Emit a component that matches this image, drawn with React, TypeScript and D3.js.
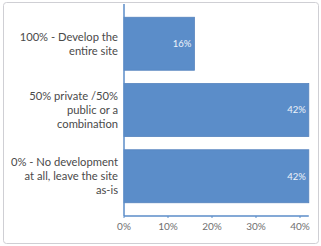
import React from 'react';
import * as d3 from 'd3';

const categories = [
    ['100% - Develop the', 'entire site'],
    ['50% private /50%', 'public or a', 'combination'],
    ['0% - No development', 'at all, leave the site', 'as-is'],
];
const values = [16, 42, 42];
const tickValues = [0, 10, 20, 30, 40];

const App: React.FC = () => {
    const width = 321;
    const height = 246;
    const margin = { top: 4, right: 13, bottom: 30, left: 124 };
    const innerW = 308.8 - margin.left;

    const x = d3.scaleLinear().domain([0, 42]).range([margin.left, margin.left + innerW]);
    const y = d3.scaleBand<number>()
        .domain(d3.range(values.length))
        .range([margin.top, height - margin.bottom])
        .paddingInner(0.2)
        .paddingOuter(0.2);

    const axisY = height - margin.bottom;
    const barColor = '#5b8dc9';
    const font = 'Lato, "Open Sans", sans-serif';

    return (
        <svg width={width} height={height} style={{ position: 'absolute', left: 0, top: 0 }}>
            <rect x={3.5} y={2.5} width={315} height={241} rx={3} fill="#fff" stroke="#cfcfd4" />
            {values.map((v, i) => (
                <g key={i}>
                    <rect
                        x={x(0)}
                        y={y(i)!}
                        width={x(v) - x(0)}
                        height={y.bandwidth()}
                        fill={barColor}
                        stroke="#5583bd"
                        strokeWidth={0.8}
                    />
                    <text
                        x={x(v) - 3}
                        y={y(i)! + y.bandwidth() / 2}
                        dy="0.35em"
                        textAnchor="end"
                        fill="#eef3fa"
                        fontFamily={font}
                        fontSize={9.5}
                    >
                        {v}%
                    </text>
                    <text
                        textAnchor="end"
                        fill="#4a4a4a"
                        fontFamily={font}
                        fontSize={11.2}
                    >
                        {categories[i].map((line, j) => (
                            <tspan
                                key={j}
                                x={118}
                                y={y(i)! + y.bandwidth() / 2 + (j - (categories[i].length - 1) / 2) * 13.7}
                                dy="0.35em"
                            >
                                {line}
                            </tspan>
                        ))}
                    </text>
                </g>
            ))}
            <line x1={x(0)} x2={x(0)} y1={margin.top} y2={axisY} stroke={barColor} strokeWidth={1.5} />
            <line x1={x(0)} x2={x(42)} y1={axisY} y2={axisY} stroke={barColor} strokeWidth={1.5} />
            {tickValues.map(t => (
                <g key={t}>
                    <line x1={x(t)} x2={x(t)} y1={axisY} y2={axisY + 2} stroke={barColor} />
                    <text
                        x={x(t)}
                        y={axisY + 10}
                        dy="0.35em"
                        textAnchor="middle"
                        fill="#707070"
                        fontFamily={font}
                        fontSize={10}
                    >
                        {t}%
                    </text>
                </g>
            ))}
        </svg>
    );
};

export default App;
